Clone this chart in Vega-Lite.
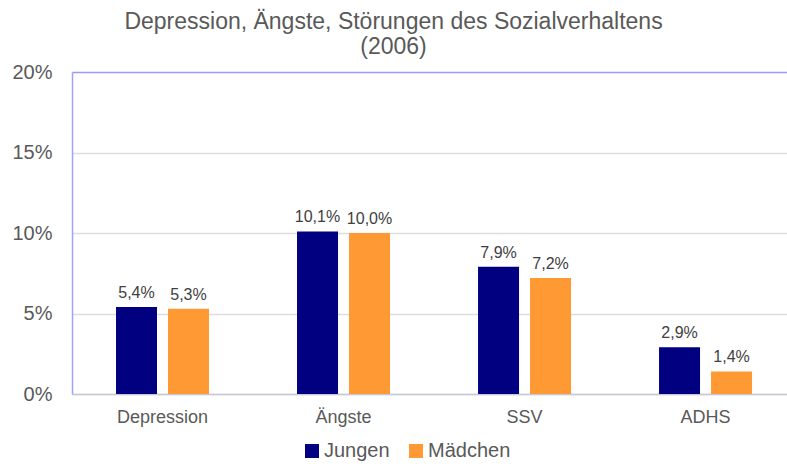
{
  "$schema": "https://vega.github.io/schema/vega-lite/v6.json",
  "autosize": "none",
  "width": 715,
  "height": 322,
  "padding": {"left": 72, "top": 72, "right": 0, "bottom": 70},
  "background": "white",
  "title": {
    "text": ["Depression, Ängste, Störungen des Sozialverhaltens", "(2006)"],
    "font": "Liberation Sans",
    "fontSize": 23,
    "fontWeight": "normal",
    "color": "#595959",
    "anchor": "middle",
    "dx": -36,
    "lineHeight": 25,
    "offset": 3
  },
  "data": {
    "values": [
      {"kategorie": "Depression", "geschlecht": "Jungen", "wert": 0.054},
      {"kategorie": "Depression", "geschlecht": "Mädchen", "wert": 0.053},
      {"kategorie": "Ängste", "geschlecht": "Jungen", "wert": 0.101},
      {"kategorie": "Ängste", "geschlecht": "Mädchen", "wert": 0.100},
      {"kategorie": "SSV", "geschlecht": "Jungen", "wert": 0.079},
      {"kategorie": "SSV", "geschlecht": "Mädchen", "wert": 0.072},
      {"kategorie": "ADHS", "geschlecht": "Jungen", "wert": 0.029},
      {"kategorie": "ADHS", "geschlecht": "Mädchen", "wert": 0.014}
    ]
  },
  "encoding": {
    "x": {
      "field": "kategorie",
      "type": "nominal",
      "sort": ["Depression", "Ängste", "SSV", "ADHS"],
      "scale": {"paddingInner": 0.1, "paddingOuter": 0.025, "align": 1},
      "axis": {
        "title": null,
        "labelAngle": 0,
        "labelFont": "Liberation Sans",
        "labelFontSize": 18,
        "labelColor": "#595959",
        "labelPadding": 14,
        "ticks": false,
        "domainColor": "#c8c8d8",
        "domainWidth": 1.5
      }
    },
    "xOffset": {
      "field": "geschlecht",
      "type": "nominal",
      "scale": {"paddingInner": 0.2115, "paddingOuter": 0.672}
    },
    "y": {
      "field": "wert",
      "type": "quantitative",
      "scale": {"domain": [0, 0.2]},
      "axis": {
        "title": null,
        "format": ".0%",
        "values": [0, 0.05, 0.1, 0.15, 0.2],
        "labelOverlap": false,
        "labelFont": "Liberation Sans",
        "labelFontSize": 20,
        "labelColor": "#595959",
        "labelPadding": 20,
        "ticks": false,
        "domainColor": "#a0a0ff",
        "domainWidth": 1.5,
        "gridColor": {"condition": {"test": "datum.value === 0.2", "value": "#9999ff"}, "value": "#dddddd"},
        "gridWidth": 1.5
      }
    }
  },
  "layer": [
    {
      "mark": {"type": "bar"},
      "encoding": {
        "color": {
          "field": "geschlecht",
          "type": "nominal",
          "scale": {"domain": ["Jungen", "Mädchen"], "range": ["#000080", "#FF9933"]},
          "legend": {
            "title": null,
            "orient": "none",
            "legendX": 230,
            "legendY": 369,
            "direction": "horizontal",
            "symbolType": "square",
            "symbolSize": 196,
            "symbolStrokeWidth": 0,
            "labelFont": "Liberation Sans",
            "labelFontSize": 20,
            "labelColor": "#595959",
            "labelOffset": 2,
            "columnPadding": 16
          }
        }
      }
    },
    {
      "mark": {"type": "text", "baseline": "bottom", "dy": -6, "font": "Liberation Sans", "fontSize": 16, "color": "#404040"},
      "encoding": {
        "text": {"field": "wert", "type": "quantitative", "format": ".1%"}
      }
    }
  ],
  "config": {
    "view": {"stroke": null},
    "locale": {
      "number": {"decimal": ",", "thousands": ".", "grouping": [3], "currency": ["", " €"]}
    }
  }
}
